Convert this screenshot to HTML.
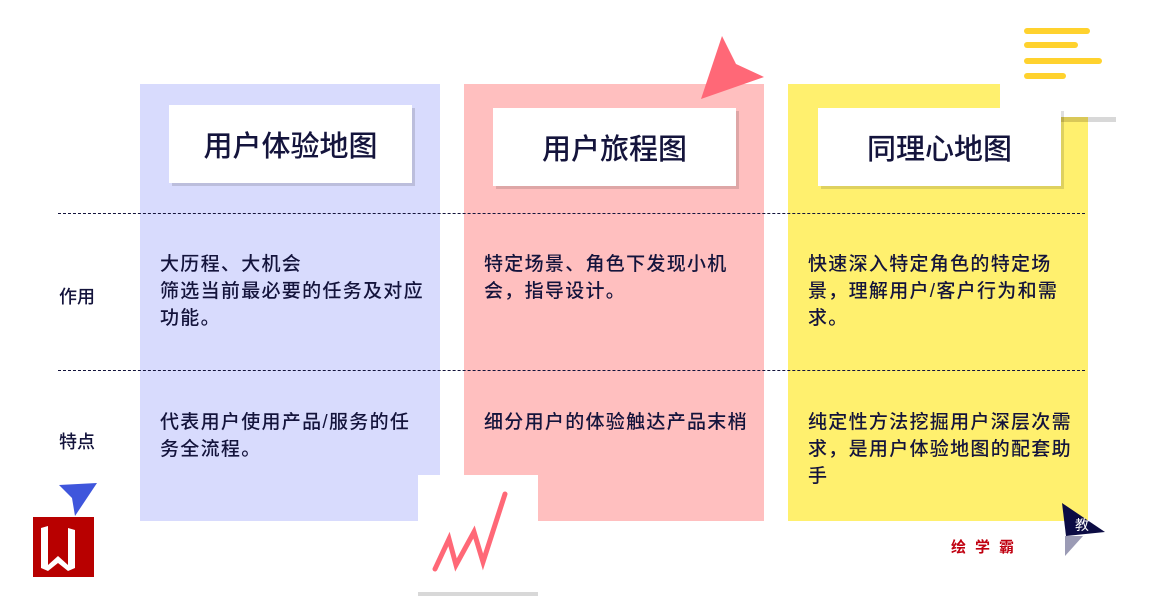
<!DOCTYPE html>
<html><head><meta charset="utf-8">
<style>
*{margin:0;padding:0;box-sizing:border-box}
body{width:1150px;height:600px;background:#fff;position:relative;overflow:hidden;font-family:"Liberation Sans","Noto Sans CJK SC",sans-serif;color:#14143c}
.a{position:absolute}
.col{position:absolute;top:84px;height:437px;width:300px}
.card{position:absolute;background:#fff;height:78px;width:243px;box-shadow:3px 3px 0 rgba(0,0,0,0.13);font-size:29px;font-weight:500;display:flex;align-items:center;justify-content:center;color:#14143c}
.dash{position:absolute;left:58px;width:1027px;border-top:1px dashed #14143c}
.t{position:absolute;font-size:19px;line-height:27px;letter-spacing:1.3px;white-space:nowrap;font-weight:500}
.lab{position:absolute;left:59px;font-size:18px;font-weight:500}
</style></head><body>
<div class="col" style="left:140px;background:#d8dbfd"></div>
<div class="col" style="left:464px;background:#ffbfbf"></div>
<div class="col" style="left:788px;background:#fff06e"></div>
<div class="a" style="left:1000px;top:80px;width:116px;height:37px;background:#fff"></div>
<div class="a" style="left:1060px;top:117px;width:56px;height:5px;background:#d8d8d8"></div>
<div class="a" style="left:1060px;top:117px;width:28px;height:5px;background:#d9c858"></div>

<div class="card" style="left:169px;top:105px">用户体验地图</div>
<div class="card" style="left:493px;top:108px">用户旅程图</div>
<div class="card" style="left:818px;top:108px">同理心地图</div>

<div class="dash" style="top:213px"></div>
<div class="dash" style="top:370px"></div>
<div class="lab" style="top:283px">作用</div>
<div class="lab" style="top:428px">特点</div>

<div class="t" style="left:160px;top:251px">大历程、大机会<br>筛选当前最必要的任务及对应<br>功能。</div>
<div class="t" style="left:484px;top:251px">特定场景、角色下发现小机<br>会，指导设计。</div>
<div class="t" style="left:808px;top:251px">快速深入特定角色的特定场<br>景，理解用户/客户行为和需<br>求。</div>
<div class="t" style="left:160px;top:409px">代表用户使用产品/服务的任<br>务全流程。</div>
<div class="t" style="left:484px;top:409px">细分用户的体验触达产品末梢</div>
<div class="t" style="left:808px;top:409px">纯定性方法挖掘用户深层次需<br>求，是用户体验地图的配套助<br>手</div>

<svg class="a" style="left:0;top:0" width="1150" height="600">
<polygon points="722,36 736,64 764,77 701,99" fill="#ff6877"/>
<g stroke="#ffd22e" stroke-width="6" stroke-linecap="round">
<line x1="1027" y1="31" x2="1087" y2="31"/><line x1="1027" y1="45" x2="1075" y2="45"/>
<line x1="1027" y1="61" x2="1099" y2="61"/><line x1="1027" y1="76" x2="1063" y2="76"/></g>
<polygon points="59,485 97,483 75,516 72,498" fill="#3f56dc"/>
<rect x="418" y="475" width="120" height="120" fill="#fff"/>
<rect x="418" y="592" width="120" height="4" fill="#d8d8d8"/>
<polyline points="435,569 449,539 456,565 474,532 483,562 505,494" fill="none" stroke="#ff6877" stroke-width="5" stroke-linecap="round"/>
<rect x="33" y="517" width="61" height="60" fill="#b80000"/>
<path d="M41,528 L48,526 L48,565 L58,556 L68,565 L68,528 L75,530 L75,568 L68,571 L58,563 L48,571 L41,568Z" fill="#fff"/>
<rect x="862" y="522" width="255" height="33" fill="#fff"/>
<polygon points="1062,503 1105,532 1066,536" fill="#0c0c44"/>
<polygon points="1065,536 1083,536 1065,556" fill="#9b9bb5"/>
<text x="1075" y="530" font-size="14" fill="#fff" font-family="Liberation Sans,Noto Sans CJK SC,sans-serif">教</text>
<text x="951" y="552" font-size="15" font-weight="bold" fill="#c00010" letter-spacing="9" font-family="Liberation Sans,Noto Sans CJK SC,sans-serif">绘学霸</text>
</svg>
</body></html>
